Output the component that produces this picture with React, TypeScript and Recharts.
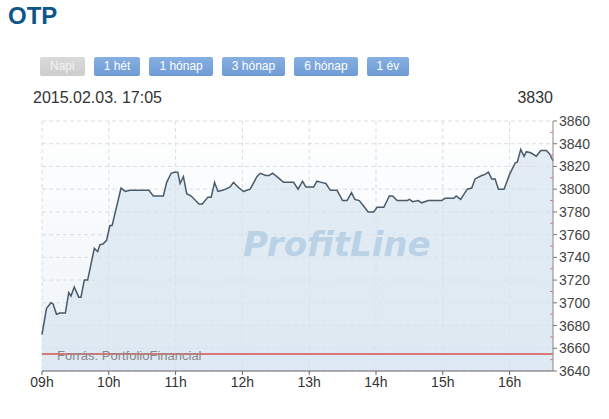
import React from 'react'
import { AreaChart, Area, XAxis, YAxis, CartesianGrid, ReferenceLine } from 'recharts'

// minutes after 09:00
const minutes = [
  0, 4, 8, 10, 13, 16, 21, 24, 26, 29,
  33, 35, 38, 41, 47, 50, 52, 55, 58, 61,
  63, 71, 75, 79, 96, 100, 109, 112, 116, 119,
  122, 124, 127, 130, 134, 141, 144, 149, 152, 155,
  158, 162, 165, 169, 172, 177, 181, 187, 193, 196,
  201, 204, 207, 211, 217, 226, 230, 234, 237, 244,
  247, 251, 255, 259, 265, 270, 274, 278, 281, 285,
  289, 293, 298, 301, 307, 312, 315, 319, 328, 330,
  333, 338, 341, 347, 359, 362, 370, 372, 376, 382,
  386, 389, 395, 398, 401, 404, 407, 410, 415, 420,
  425, 427, 430, 433, 435, 439, 444, 448, 453, 456,
  459,
]

const prices = [
  3672, 3695, 3700, 3699, 3690, 3691, 3691, 3709, 3706, 3714,
  3705, 3705, 3720, 3720, 3748, 3745, 3751, 3752, 3755, 3768,
  3768, 3801, 3798, 3799, 3799, 3794, 3794, 3806, 3814, 3815,
  3815, 3805, 3811, 3796, 3794, 3787, 3787, 3793, 3793, 3806,
  3798, 3799, 3800, 3802, 3806, 3801, 3798, 3800, 3811, 3814,
  3812, 3812, 3814, 3811, 3806, 3806, 3800, 3807, 3802, 3802,
  3807, 3806, 3805, 3799, 3799, 3790, 3790, 3797, 3791, 3790,
  3785, 3780, 3780, 3784, 3784, 3794, 3794, 3790, 3790, 3791,
  3789, 3790, 3788, 3790, 3790, 3792, 3792, 3794, 3791, 3800,
  3801, 3809, 3812, 3813, 3815, 3809, 3809, 3800, 3800, 3813,
  3823, 3824, 3835, 3829, 3833, 3832, 3829, 3834, 3834, 3831,
  3825,
]

const hourTicks = [0, 60, 120, 180, 240, 300, 360, 420]
const hourLabels = ['09h', '10h', '11h', '12h', '13h', '14h', '15h', '16h']
const majorTicks = [3640, 3660, 3680, 3700, 3720, 3740, 3760, 3780, 3800, 3820, 3840, 3860]
const allTicks = [
  3640, 3650, 3660, 3670, 3680, 3690, 3700, 3710, 3720, 3730, 3740, 3750,
  3760, 3770, 3780, 3790, 3800, 3810, 3820, 3830, 3840, 3850, 3860,
]
const ranges = ['Napi', '1 hét', '1 hónap', '3 hónap', '6 hónap', '1 év']

const title = 'OTP'
const stamp = '2015.02.03. 17:05'
const lastPrice = '3830'
const source = 'Forrás: PortfolioFinancial'
const minLine = 3655

const data = minutes.map((t, i) => ({ t, price: prices[i] }))

const font = '"Liberation Sans", Arial, sans-serif'

function PriceTick(props: any) {
  const { x, y, payload } = props
  const v = payload.value
  const axisX = x - 6
  if (v % 20 !== 0) {
    return <line x1={axisX - 3} x2={axisX} y1={y} y2={y} stroke="#e07a7a" strokeWidth={1} />
  }
  return (
    <g>
      <line x1={axisX} x2={axisX + 4} y1={y} y2={y} stroke="#777" />
      <text x={x} y={y} dy="0.355em" textAnchor="start" fill="#444" fontSize={14} fontFamily={font}>
        {v}
      </text>
    </g>
  )
}

export default function App() {
  return (
    <div style={{ position: 'absolute', left: 0, top: 0, width: 609, height: 419, background: '#fff', fontFamily: font }}>
      <div style={{ position: 'absolute', left: 8, top: 4, fontSize: 24, lineHeight: 1, fontWeight: 'bold', color: '#0d5687' }}>
        {title}
      </div>
      <div style={{ position: 'absolute', left: 40, top: 57, display: 'flex', gap: 9 }}>
        {ranges.map((r, i) => (
          <div
            key={r}
            style={{
              height: 19,
              lineHeight: '19px',
              padding: '0 10px',
              fontSize: 12,
              borderRadius: 2,
              color: i === 0 ? '#f4f4f4' : '#fff',
              background: i === 0 ? 'linear-gradient(#dadada, #cdcdcd)' : 'linear-gradient(#86afe2, #6f9bd4)',
            }}
          >
            {r}
          </div>
        ))}
      </div>
      <div style={{ position: 'absolute', left: 33, top: 90, fontSize: 16, lineHeight: 1, color: '#333' }}>{stamp}</div>
      <div style={{ position: 'absolute', right: 609 - 553, top: 90, fontSize: 16, lineHeight: 1, color: '#333' }}>{lastPrice}</div>

      <div style={{ position: 'absolute', left: 0, top: 0 }}>
        <AreaChart width={609} height={419} data={data} margin={{ top: 121, right: 0, left: 42, bottom: 0 }}>
          <defs>
            <linearGradient id="plotBg" x1="0" y1="0" x2="0" y2="1">
              <stop offset="0%" stopColor="#ffffff" />
              <stop offset="100%" stopColor="#edf3f8" />
            </linearGradient>
          </defs>
          <CartesianGrid
            stroke="#d9dee3"
            strokeDasharray="4 3"
            fill="url(#plotBg)"
            fillOpacity={1}
            horizontalValues={majorTicks}
            verticalValues={hourTicks}
          />
          <XAxis
            dataKey="t"
            type="number"
            domain={[0, 459]}
            ticks={hourTicks}
            tickFormatter={(v: number) => hourLabels[hourTicks.indexOf(v)]}
            height={48}
            tickSize={4}
            tickMargin={2}
            axisLine={{ stroke: '#666' }}
            tickLine={{ stroke: '#666' }}
            tick={{ fill: '#333', fontSize: 14, fontFamily: font }}
            interval={0}
          />
          <YAxis
            orientation="right"
            type="number"
            domain={[3640, 3860]}
            ticks={allTicks}
            interval={0}
            width={56}
            tickSize={4}
            tickMargin={2}
            axisLine={{ stroke: '#888' }}
            tickLine={false}
            tick={<PriceTick />}
          />
          <Area
            type="linear"
            dataKey="price"
            stroke="#4a5a68"
            strokeWidth={1.5}
            fill="#d6e4f0"
            fillOpacity={0.65}
            dot={false}
            activeDot={false}
            isAnimationActive={false}
          />
          <ReferenceLine y={minLine} stroke="#d9534f" strokeWidth={1.5} />
        </AreaChart>
      </div>

      <div
        style={{
          position: 'absolute',
          left: 243,
          top: 224,
          fontFamily: '"DejaVu Sans", sans-serif',
          fontWeight: 'bold',
          fontStyle: 'italic',
          fontSize: 34,
          lineHeight: '40px',
          color: '#b9d2e6',
          pointerEvents: 'none',
        }}
      >
        ProfitLine
      </div>
      <div style={{ position: 'absolute', left: 57, top: 348, fontSize: 13, lineHeight: '15px', color: '#8a8a8a' }}>
        {source}
      </div>
    </div>
  )
}
